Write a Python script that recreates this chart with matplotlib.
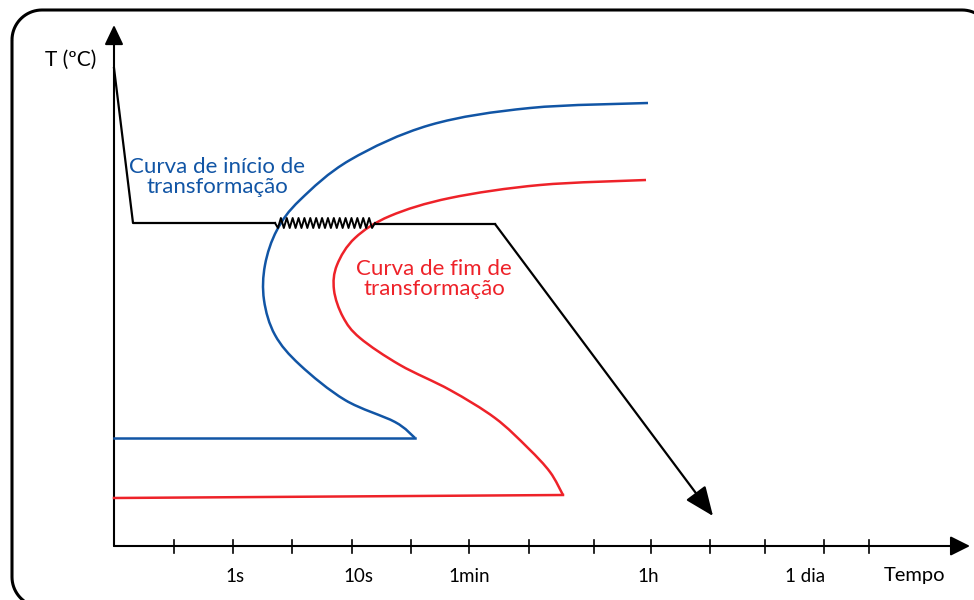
import numpy as np
import matplotlib
matplotlib.use('Agg')
import matplotlib.pyplot as plt
from matplotlib.path import Path
from matplotlib.patches import PathPatch, FancyArrowPatch

plt.rcParams['font.family'] = ['Lato', 'DejaVu Sans']

# schematic TTT diagram, coordinates in picture units (x right, y down)
blue_x = [648, 530, 430, 350, 300, 277, 265, 264, 275, 300, 345, 395, 415]
blue_y = [103, 108, 125, 160, 200, 230, 265, 300, 335, 365, 400, 422, 438]
blue_base_x = [415, 114]
blue_base_y = [438, 438]

red_x = [646, 540, 450, 390, 355, 337, 334, 343, 360, 400, 450, 495, 528, 550, 563]
red_y = [180, 185, 198, 216, 238, 265, 290, 317, 338, 365, 390, 418, 448, 472, 495]
red_base_x = [563, 114]
red_base_y = [495, 498]

cool_x = [114, 133, 275]
cool_y = [68, 223, 223]
zig_start, zig_end, zig_y = 275, 375, 223
hold_x = [375, 495]
hold_y = [224, 224]
final_x = [495, 713]
final_y = [224, 516]

tick_x = [174, 233, 292, 352, 411, 469, 529, 594, 651, 710, 765, 824, 869]
tick_labels = ['1s', '10s', '1min', '1h', '1 dia']
tick_label_x = [235, 358, 469, 648, 805]

BLUE = '#1155a5'
RED = '#ee2229'


def smooth_path(xs, ys):
    pts = np.column_stack([xs, ys]).astype(float)
    verts = [pts[0]]
    codes = [Path.MOVETO]
    for i in range(len(pts) - 1):
        p0 = pts[i - 1] if i > 0 else pts[i]
        p1 = pts[i]
        p2 = pts[i + 1]
        p3 = pts[i + 2] if i + 2 < len(pts) else pts[i + 1]
        verts += [p1 + (p2 - p0) / 6, p2 - (p3 - p1) / 6, p2]
        codes += [Path.CURVE4] * 3
    return Path(verts, codes)


def rounded_frame(x0, y0, x1, y1, r):
    a = np.linspace(0, np.pi / 2, 20)
    pts = []
    pts += list(zip(x0 + r - r * np.cos(a), y0 + r - r * np.sin(a)))            # top-left
    pts += list(zip(x1 - r + r * np.sin(a), y0 + r - r * np.cos(a)))            # top-right
    pts += list(zip(x1 - r + r * np.cos(a), y1 - r + r * np.sin(a)))            # bottom-right
    pts += list(zip(x0 + r - r * np.sin(a), y1 - r + r * np.cos(a)))            # bottom-left
    pts.append(pts[0])
    return Path(pts)


fig = plt.figure(figsize=(9.74, 6), dpi=100)
ax = fig.add_axes([0, 0, 1, 1])
ax.set_xlim(0, 974)
ax.set_ylim(600, 0)
ax.axis('off')

# rounded frame
ax.add_patch(PathPatch(rounded_frame(12, 10, 992, 607, 30), fc='none', ec='black', lw=2.2))

# axes arrows
ax.add_patch(FancyArrowPatch((114, 546), (114, 25), arrowstyle='-|>,head_length=0.8,head_width=0.38',
                             mutation_scale=15, lw=1.5, color='black', shrinkA=0, shrinkB=0))
ax.add_patch(FancyArrowPatch((114, 546), (970, 546), arrowstyle='-|>,head_length=0.8,head_width=0.4',
                             mutation_scale=15, lw=1.5, color='black', shrinkA=0, shrinkB=0))
for x in tick_x:
    ax.plot([x, x], [540, 553], color='black', lw=1.2)
for lab, x in zip(tick_labels, tick_label_x):
    ax.text(x, 577, lab, ha='center', va='center', fontsize=13.5)
ax.text(915, 576, 'Tempo', ha='center', va='center', fontsize=14.5)
ax.text(71, 60, 'T (ºC)', ha='center', va='center', fontsize=15)

# transformation curves
ax.add_patch(PathPatch(smooth_path(blue_x, blue_y), fc='none', ec=BLUE, lw=1.8))
ax.plot(blue_base_x, blue_base_y, color=BLUE, lw=1.8)
ax.add_patch(PathPatch(smooth_path(red_x, red_y), fc='none', ec=RED, lw=1.8))
ax.plot(red_base_x, red_base_y, color=RED, lw=1.8)

# cooling path
ax.plot(cool_x, cool_y, color='black', lw=1.6)
zx = np.linspace(zig_start, zig_end, 35)
zy = zig_y + np.where(np.arange(35) % 2 == 0, -5, 5)
zy[0] = zy[-1] = zig_y
ax.plot(zx, zy, color='black', lw=1.4)
ax.plot(hold_x, hold_y, color='black', lw=1.6)
ax.add_patch(FancyArrowPatch((final_x[0], final_y[0]), (final_x[1], final_y[1]),
                             arrowstyle='-|>,head_length=1.2,head_width=0.5',
                             mutation_scale=15, lw=1.6, color='black', shrinkA=0, shrinkB=0))

ax.text(217, 177, 'Curva de início de\ntransformação', ha='center', va='center',
        fontsize=16, color=BLUE, linespacing=1.05)
ax.text(434, 279, 'Curva de fim de\ntransformação', ha='center', va='center',
        fontsize=16, color=RED, linespacing=1.05)

fig.savefig('out.png', dpi=100)
